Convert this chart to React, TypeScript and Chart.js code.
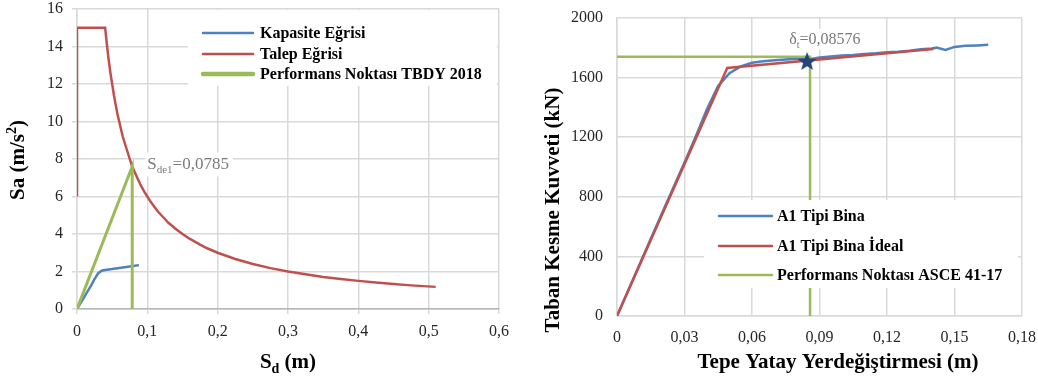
import React, { useEffect, useRef } from 'react';
import { Chart, registerables } from 'chart.js';

Chart.register(...registerables);

const SERIF = '"Liberation Serif", "Times New Roman", serif';
Chart.defaults.font.family = SERIF;
const BLUE = '#4f81bd';
const RED = '#c0504d';
const GREEN = '#9bbb59';
const STAR = '#264478';
const GRID = '#d9d9d9';

// ---------- Left chart: ADRS (Sa - Sd) ----------
const capacitySd = [0, 0.005, 0.01, 0.015, 0.02, 0.025, 0.03, 0.035, 0.04, 0.05, 0.06, 0.07, 0.08, 0.088];
const capacitySa = [0, 0.31, 0.62, 0.94, 1.25, 1.6, 1.9, 2.04, 2.08, 2.13, 2.19, 2.24, 2.29, 2.34];

const demandSd = [0, 0, 0.04, 0.0425, 0.045, 0.0475, 0.05, 0.0525, 0.055, 0.0575, 0.06, 0.065, 0.07, 0.075, 0.0785, 0.085, 0.09, 0.095, 0.1, 0.105, 0.11, 0.115, 0.12, 0.125, 0.13, 0.14, 0.15, 0.16, 0.175, 0.185, 0.2, 0.225, 0.25, 0.275, 0.3, 0.325, 0.35, 0.375, 0.4, 0.425, 0.45, 0.475, 0.51];
const demandSa = [6, 15, 15, 14.1, 13.3, 12.6, 12, 11.4, 10.9, 10.4, 10, 9.2, 8.6, 8.0, 7.6, 7.05, 6.65, 6.3, 6.0, 5.7, 5.45, 5.2, 5.0, 4.8, 4.6, 4.28, 4.0, 3.75, 3.43, 3.24, 3.0, 2.67, 2.4, 2.18, 2.0, 1.85, 1.71, 1.6, 1.5, 1.41, 1.33, 1.26, 1.18];

const perfTbdySd = [0, 0.0785, 0.0785];
const perfTbdySa = [0, 7.6, 0];

const leftXTickLabels = ['0', '0,1', '0,2', '0,3', '0,4', '0,5', '0,6'];
const leftYTickLabels = ['0', '2', '4', '6', '8', '10', '12', '14', '16'];

// ---------- Right chart: pushover ----------
const pushX = [0, 0.01, 0.02, 0.03, 0.035, 0.04, 0.045, 0.05, 0.055, 0.06, 0.065, 0.07, 0.075, 0.08, 0.085, 0.09, 0.095, 0.1, 0.105, 0.11, 0.115, 0.12, 0.125, 0.13, 0.135, 0.14, 0.142, 0.146, 0.15, 0.155, 0.16, 0.165];
const pushV = [0, 345, 690, 1030, 1205, 1390, 1545, 1630, 1675, 1700, 1710, 1717, 1722, 1727, 1722, 1735, 1742, 1748, 1752, 1758, 1763, 1770, 1774, 1780, 1790, 1795, 1801, 1786, 1806, 1813, 1816, 1820];

const idealX = [0, 0.049, 0.1406];
const idealV = [0, 1665, 1792];

const perfAsceX = [0, 0.0858, 0.0858];
const perfAsceV = [1740, 1740, 0];

const starX = [0.0845];
const starV = [1712];

const rightXTickLabels = ['0', '0,03', '0,06', '0,09', '0,12', '0,15', '0,18'];
const rightYTickLabels = ['0', '400', '800', '1200', '1600', '2000'];

type Seg = { t: string; mode?: 'sub' | 'sup' };

function drawRich(
  ctx: CanvasRenderingContext2D,
  segs: Seg[],
  x: number,
  cy: number,
  size: number,
  weight: string,
  color: string,
  align: 'center' | 'left'
) {
  const fontFor = (s: Seg) => `${weight} ${s.mode ? Math.round(size * 0.65) : size}px ${SERIF}`;
  const widths = segs.map((s) => {
    ctx.font = fontFor(s);
    return ctx.measureText(s.t).width;
  });
  const total = widths.reduce((a, b) => a + b, 0);
  let cx = align === 'center' ? x - total / 2 : x;
  const base = cy + size * 0.33;
  ctx.fillStyle = color;
  ctx.textBaseline = 'alphabetic';
  ctx.textAlign = 'left';
  segs.forEach((s, i) => {
    ctx.font = fontFor(s);
    const dy = s.mode === 'sub' ? size * 0.25 : s.mode === 'sup' ? -size * 0.38 : 0;
    ctx.fillText(s.t, cx, base + dy);
    cx += widths[i];
  });
  return total;
}

function measureRich(ctx: CanvasRenderingContext2D, segs: Seg[], size: number, weight: string) {
  let total = 0;
  segs.forEach((s) => {
    ctx.font = `${weight} ${s.mode ? Math.round(size * 0.65) : size}px ${SERIF}`;
    total += ctx.measureText(s.t).width;
  });
  return total;
}

function drawLegend(
  chart: any,
  box: { l: number; t: number; r: number; b: number },
  rows: number[],
  lineX0: number,
  lineX1: number,
  textX: number,
  size: number,
  lineWidths: number[]
) {
  const ctx = chart.ctx as CanvasRenderingContext2D;
  ctx.save();
  ctx.fillStyle = '#ffffff';
  ctx.fillRect(box.l, box.t, box.r - box.l, box.b - box.t);
  const ds = chart.data.datasets.filter((d: any) => d.label);
  ds.forEach((d: any, i: number) => {
    const y = rows[i];
    ctx.strokeStyle = d.borderColor;
    ctx.lineWidth = lineWidths[i];
    ctx.lineCap = 'round';
    ctx.beginPath();
    ctx.moveTo(lineX0, y);
    ctx.lineTo(lineX1, y);
    ctx.stroke();
    ctx.font = `bold ${size}px ${SERIF}`;
    ctx.fillStyle = '#000000';
    ctx.textAlign = 'left';
    ctx.textBaseline = 'middle';
    ctx.fillText(d.label, textX, y + 1);
  });
  ctx.restore();
}

function makeStar(r: number, color: string) {
  const c = document.createElement('canvas');
  const s = Math.ceil(r * 2 + 2);
  c.width = s;
  c.height = s;
  const g = c.getContext('2d')!;
  g.fillStyle = color;
  g.beginPath();
  for (let i = 0; i < 10; i++) {
    const ang = -Math.PI / 2 + (i * Math.PI) / 5;
    const rr = i % 2 === 0 ? r : r * 0.42;
    g.lineTo(s / 2 + rr * Math.cos(ang), s / 2 + rr * Math.sin(ang) + r * 0.1);
  }
  g.closePath();
  g.fill();
  return c;
}

const pts = (xs: number[], ys: number[]) => xs.map((x, i) => ({ x, y: ys[i] }));

const tickFont = { family: SERIF, size: 16 };

const fixX = (h: number) => (s: any) => {
  s.height = h;
  s.paddingLeft = 0;
  s.paddingRight = 0;
  s.paddingTop = 0;
  s.paddingBottom = 0;
};
const fixY = (w: number) => (s: any) => {
  s.width = w;
  s.paddingLeft = 0;
  s.paddingRight = 0;
  s.paddingTop = 0;
  s.paddingBottom = 0;
};

export default function App() {
  const leftRef = useRef<HTMLCanvasElement>(null);
  const rightRef = useRef<HTMLCanvasElement>(null);

  useEffect(() => {
    const leftDecor = {
      id: 'leftDecor',
      afterDatasetsDraw(chart: any) {
        drawLegend(chart, { l: 188, t: 10, r: 497, b: 86 }, [33, 54, 74], 203, 253, 260, 16, [2.5, 2.5, 4.5]);
        const ctx = chart.ctx as CanvasRenderingContext2D;
        const px = chart.scales.x.getPixelForValue(perfTbdySd[1]);
        const py = chart.scales.y.getPixelForValue(perfTbdySa[1]);
        const segs: Seg[] = [{ t: 'S' }, { t: 'de1', mode: 'sub' }, { t: '=0,0785' }];
        ctx.save();
        const w = measureRich(ctx, segs, 17, 'normal');
        ctx.fillStyle = '#ffffff';
        ctx.fillRect(px + 13, py - 14, w + 6, 24);
        drawRich(ctx, segs, px + 15, py - 3, 17, 'normal', '#7a7a7a', 'left');
        ctx.restore();
      },
      afterDraw(chart: any) {
        const ctx = chart.ctx as CanvasRenderingContext2D;
        ctx.save();
        ctx.translate(17, 160);
        ctx.rotate(-Math.PI / 2);
        drawRich(ctx, [{ t: 'Sa (m/s' }, { t: '2', mode: 'sup' }, { t: ')' }], 0, 0, 21, 'bold', '#000', 'center');
        ctx.restore();
        ctx.save();
        drawRich(ctx, [{ t: 'S' }, { t: 'd', mode: 'sub' }, { t: ' (m)' }], 288, 361, 21, 'bold', '#000', 'center');
        ctx.restore();
      },
    };

    const rightDecor = {
      id: 'rightDecor',
      afterDatasetsDraw(chart: any) {
        drawLegend(chart, { l: 184, t: 200, r: 498, b: 288 }, [216, 246, 275], 199, 252, 257, 16, [2.5, 2.5, 2.5]);
        const ctx = chart.ctx as CanvasRenderingContext2D;
        const sx = chart.scales.x.getPixelForValue(starX[0]);
        const sy = chart.scales.y.getPixelForValue(starV[0]);
        const segs: Seg[] = [{ t: 'δ' }, { t: 't', mode: 'sub' }, { t: '=0,08576' }];
        ctx.save();
        const w = measureRich(ctx, segs, 16, 'normal');
        ctx.fillStyle = '#ffffff';
        ctx.fillRect(sx - 20, sy - 32, w + 4, 21);
        drawRich(ctx, segs, sx - 18, sy - 22, 16, 'normal', '#7a7a7a', 'left');
        ctx.restore();
      },
      afterDraw(chart: any) {
        const ctx = chart.ctx as CanvasRenderingContext2D;
        ctx.save();
        ctx.translate(32, 210);
        ctx.rotate(-Math.PI / 2);
        drawRich(ctx, [{ t: 'Taban Kesme Kuvveti (kN)' }], 0, 0, 21, 'bold', '#000', 'center');
        ctx.restore();
        ctx.save();
        drawRich(ctx, [{ t: 'Tepe Yatay Yerdeğiştirmesi (m)' }], 318, 361, 21, 'bold', '#000', 'center');
        ctx.restore();
      },
    };

    const left = new Chart(leftRef.current!, {
      type: 'scatter',
      data: {
        datasets: [
          { label: 'Kapasite Eğrisi', data: pts(capacitySd, capacitySa), borderColor: BLUE, backgroundColor: BLUE, borderWidth: 2.5, showLine: true, pointRadius: 0, order: 2 },
          { label: 'Talep Eğrisi', data: pts(demandSd, demandSa), borderColor: RED, backgroundColor: RED, borderWidth: 2.5, showLine: true, pointRadius: 0, order: 1 },
          { label: 'Performans Noktası TBDY 2018', data: pts(perfTbdySd, perfTbdySa), borderColor: GREEN, backgroundColor: GREEN, borderWidth: 3, showLine: true, pointRadius: 0, order: 0 },
        ],
      } as any,
      options: {
        responsive: false,
        animation: false,
        events: [],
        layout: { padding: { left: 0, top: 9, right: 21, bottom: 0 } },
        plugins: { legend: { display: false }, tooltip: { enabled: false } },
        scales: {
          x: {
            type: 'linear',
            min: 0,
            max: 0.6,
            afterFit: fixX(73),
            ticks: { stepSize: 0.1, font: tickFont, color: '#262626', padding: 8, maxRotation: 0, callback: (_v: any, i: number) => leftXTickLabels[i] ?? '' },
            grid: { color: GRID, lineWidth: 1.5, tickLength: 5 },
            border: { color: '#b5b5b5', width: 1.5 },
          },
          y: {
            type: 'linear',
            min: 0,
            max: 16,
            afterFit: fixY(77),
            ticks: { stepSize: 2, font: tickFont, color: '#262626', padding: 9, callback: (_v: any, i: number) => leftYTickLabels[i] ?? '' },
            grid: { color: GRID, lineWidth: 1.5, tickLength: 5 },
            border: { color: GRID, width: 1.5 },
          },
        },
      } as any,
      plugins: [leftDecor],
    });

    const starImg = makeStar(10, STAR);

    const right = new Chart(rightRef.current!, {
      type: 'scatter',
      data: {
        datasets: [
          { label: 'A1 Tipi Bina', data: pts(pushX, pushV), borderColor: BLUE, backgroundColor: BLUE, borderWidth: 2.5, showLine: true, pointRadius: 0, order: 3 },
          { label: 'A1 Tipi Bina İdeal', data: pts(idealX, idealV), borderColor: RED, backgroundColor: RED, borderWidth: 2.5, showLine: true, pointRadius: 0, order: 2 },
          { label: 'Performans Noktası ASCE 41-17', data: pts(perfAsceX, perfAsceV), borderColor: GREEN, backgroundColor: GREEN, borderWidth: 2.5, showLine: true, pointRadius: 0, order: 1 },
          { data: pts(starX, starV), pointStyle: starImg, pointRadius: 10, showLine: false, order: 0 },
        ],
      } as any,
      options: {
        responsive: false,
        animation: false,
        events: [],
        layout: { padding: { left: 0, top: 18, right: 16, bottom: 0 } },
        plugins: { legend: { display: false }, tooltip: { enabled: false } },
        scales: {
          x: {
            type: 'linear',
            min: 0,
            max: 0.18,
            afterFit: fixX(66),
            ticks: { stepSize: 0.03, font: tickFont, color: '#262626', padding: 12, maxRotation: 0, callback: (_v: any, i: number) => rightXTickLabels[i] ?? '' },
            grid: { color: GRID, lineWidth: 1.5, drawTicks: false },
            border: { color: GRID, width: 1.5 },
          },
          y: {
            type: 'linear',
            min: 0,
            max: 2000,
            afterFit: fixY(97),
            ticks: { stepSize: 400, font: tickFont, color: '#262626', padding: 14, callback: (_v: any, i: number) => rightYTickLabels[i] ?? '' },
            grid: { color: GRID, lineWidth: 1.5, drawTicks: false },
            border: { color: GRID, width: 1.5 },
          },
        },
      } as any,
      plugins: [rightDecor],
    });

    return () => {
      left.destroy();
      right.destroy();
    };
  }, []);

  return (
    <div style={{ position: 'absolute', left: 0, top: 0, width: 1038, height: 382, background: '#ffffff' }}>
      <canvas ref={leftRef} width={520} height={382} style={{ position: 'absolute', left: 0, top: 0 }} />
      <canvas ref={rightRef} width={518} height={382} style={{ position: 'absolute', left: 520, top: 0 }} />
    </div>
  );
}
